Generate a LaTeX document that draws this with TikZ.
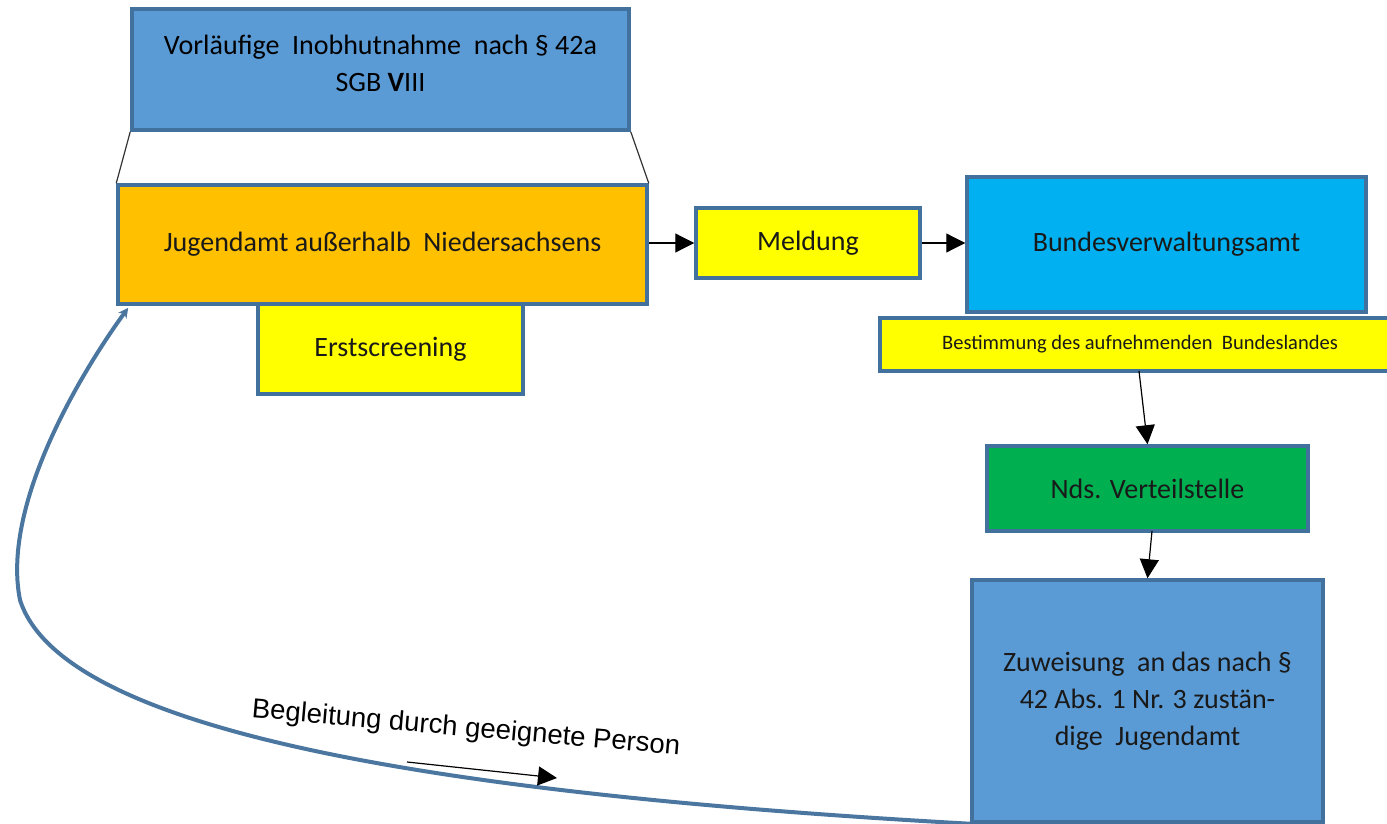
\documentclass[tikz,border=0pt]{standalone}
\usepackage{fontspec}
\setmainfont{Carlito}
\newfontfamily\arialf{Liberation Sans}
\usetikzlibrary{arrows.meta,calc}
\definecolor{bordc}{HTML}{41719C}
\definecolor{blue1}{HTML}{5B9BD5}
\definecolor{orange1}{HTML}{FFC000}
\definecolor{yellow1}{HTML}{FFFF00}
\definecolor{cyan1}{HTML}{00B0F0}
\definecolor{green1}{HTML}{00B050}
\definecolor{curvec}{HTML}{4A76A0}
\tikzset{
  box/.style={draw=bordc, line width=3.5pt, rectangle, inner sep=0pt, align=center, text=black!90},
  big/.style={font=\fontsize{28}{37}\selectfont},
  small/.style={font=\fontsize{20.5}{24}\selectfont},
  arr/.style={draw=black, line width=1.2pt, -{Triangle[length=19pt,width=19pt]}},
}
\begin{document}
\begin{tikzpicture}[x=1pt,y=-1pt]
\useasboundingbox (0,0) rectangle (1387,824);
% boxes
\node[box, fill=blue1, minimum width=497, minimum height=121] (vorl) at (380.5,69.5) {};
\node[big, align=center, inner sep=0pt] (vorltxt) at (380.5,63) {Vorläufige\ \ Inobhutnahme\ \ nach § 42a\\SGB \textbf{V}III};
\node[box, big, fill=orange1, minimum width=529, minimum height=119] (jug) at (382.5,244.5) {Jugendamt außerhalb\ \ Niedersachsens};
\node[box, big, fill=yellow1, minimum width=265, minimum height=90] (erst) at (390.5,349) {Erstscreening};
\node[box, big, fill=yellow1, minimum width=224, minimum height=70] (meld) at (808,243) {\raisebox{-3pt}{Meldung}};
\node[box, big, fill=cyan1, minimum width=399, minimum height=135] (bva) at (1166.5,244.5) {Bundesverwaltungsamt};
\node[box, small, fill=yellow1, minimum width=520, minimum height=53] (best) at (1140,344.5) {Bestimmung des aufnehmenden\ \ Bundeslandes};
\node[box, big, fill=green1, minimum width=321, minimum height=85] (nds) at (1147.5,488.5) {Nds. Verteilstelle};
\node[box, big, fill=blue1, minimum width=351, minimum height=242] (zuw) at (1147.5,701) {Zuweisung\ \ an das nach §\\42 Abs. 1 Nr. 3 zustän-\\dige\ \ Jugendamt};
% funnel lines
\draw[black!80, line width=1.2pt] (vorl.south west) -- (jug.north west);
\draw[black!80, line width=1.2pt] (vorl.south east) -- (jug.north east);
% arrows
\draw[arr] (jug.east |- meld.west) -- (meld.west);
\draw[arr] (meld.east) -- (bva.west |- meld.east);
\draw[arr] (1139,371) -- (nds.north);
\draw[arr] (1152,531) -- (zuw.north);
% curve
\coordinate (cend) at ($(jug.south west)+(12,2)$);
\coordinate (cmid) at (20,600);
\draw[curvec, line width=4pt, -{Stealth[length=10pt,width=10pt]}] (zuw.south west) .. controls (400,792) and (60,725) .. (cmid) .. controls (0,500) and (90,360) .. (cend);
% label
\node[font=\arialf\fontsize{27.5}{30}\selectfont, rotate=-5, inner sep=0pt] (lab) at (466,729) {Begleitung durch geeignete Person};
\coordinate (sa) at (407,762);
\coordinate (sb) at (557,778);
\draw[arr] (sa) -- (sb);
\end{tikzpicture}
\end{document}
